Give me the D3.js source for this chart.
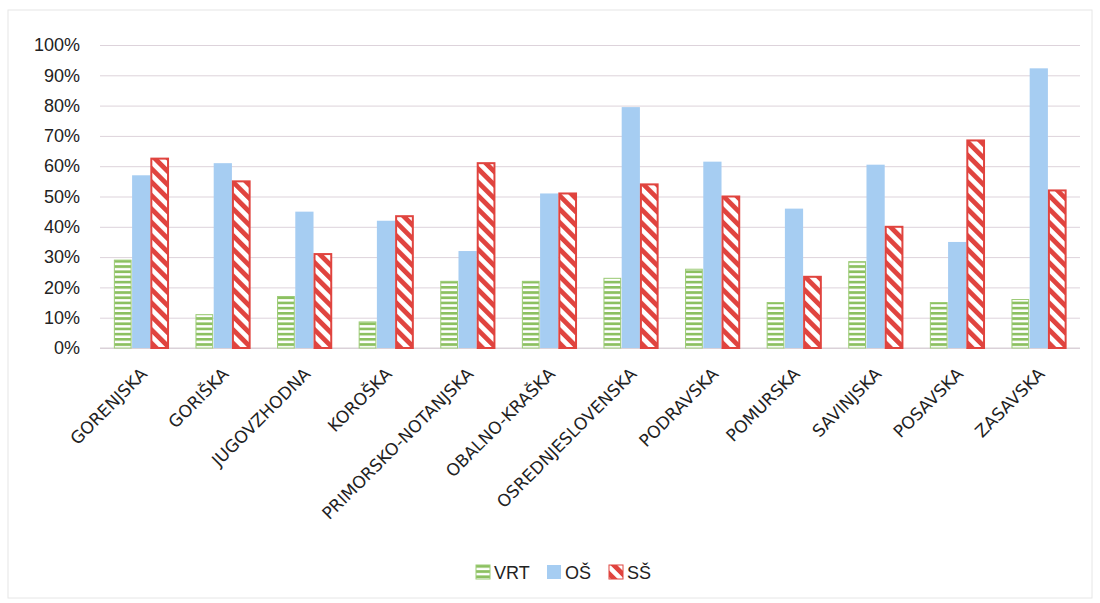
<!DOCTYPE html>
<html><head><meta charset="utf-8">
<script src="https://cdn.jsdelivr.net/npm/d3@7"></script>
<style>body{margin:0;background:#fff;} svg{display:block;font-family:"Liberation Sans",Arial,sans-serif;}</style>
</head><body>
<svg id="chart" width="1100" height="603"></svg>
<script>
const categories = ["GORENJSKA","GORIŠKA","JUGOVZHODNA","KOROŠKA","PRIMORSKO-NOTANJSKA","OBALNO-KRAŠKA","OSREDNJESLOVENSKA","PODRAVSKA","POMURSKA","SAVINJSKA","POSAVSKA","ZASAVSKA"];
const seriesNames = ["VRT","OŠ","SŠ"];
const vrt = [29, 11, 17, 8.6, 22, 22, 23, 26, 15, 28.5, 15, 16];
const os  = [57, 61, 45, 42, 32, 51, 79.5, 61.5, 46, 60.5, 35, 92.3];
const ss  = [62.5, 55, 31, 43.5, 61, 51, 54, 50, 23.5, 40, 68.5, 52];
const yTicks = [0,10,20,30,40,50,60,70,80,90,100];

const svg = d3.select("#chart");
const defs = svg.append("defs");
// green horizontal stripes
const pg = defs.append("pattern").attr("id","pGreen").attr("patternUnits","userSpaceOnUse").attr("width",6).attr("height",5.2);
pg.append("rect").attr("width",6).attr("height",5.2).attr("fill","#fff");
pg.append("rect").attr("y",0).attr("width",6).attr("height",2.7).attr("fill","#8cc061");
// red diagonal stripes ("\" direction)
const pr = defs.append("pattern").attr("id","pRed").attr("patternUnits","userSpaceOnUse").attr("width",9.5).attr("height",9.5).attr("patternTransform","rotate(-45)");
pr.append("rect").attr("width",9.5).attr("height",9.5).attr("fill","#fff");
pr.append("rect").attr("width",4.8).attr("height",9.5).attr("fill","#e0443f");

const x0 = d3.scaleBand().domain(categories).range([100, 1080]).paddingInner(0.33).paddingOuter(0.17);
const x1 = d3.scaleBand().domain(seriesNames).range([0, x0.bandwidth()]).padding(0);
const y = d3.scaleLinear().domain([0,100]).range([348, 45]);

// frame
svg.append("rect").attr("x",8).attr("y",10).attr("width",1084).attr("height",588).attr("fill","none").attr("stroke","#e6e6e6").attr("stroke-width",1);

// gridlines
const yAxis = d3.axisLeft(y).tickValues(yTicks).tickFormat(d => d + "%").tickSize(-980).tickPadding(20);
const gy = svg.append("g").attr("transform","translate(100,0)").call(yAxis);
gy.select(".domain").remove();
gy.selectAll(".tick line").attr("stroke","#ddd3db").attr("stroke-width",1);
gy.selectAll(".tick text").attr("font-size",18).attr("fill","#222").attr("font-family","'Liberation Sans',Arial,sans-serif");

// baseline
svg.append("line").attr("x1",100).attr("x2",1080).attr("y1",y(0)).attr("y2",y(0)).attr("stroke","#d8d0d6");

const data = categories.map((c,i) => ({c, vals:[{s:"VRT",v:vrt[i]},{s:"OŠ",v:os[i]},{s:"SŠ",v:ss[i]}]}));
const g = svg.append("g").selectAll("g").data(data).join("g").attr("transform", d => `translate(${x0(d.c)},0)`);
g.selectAll("rect").data(d => d.vals).join("rect")
  .attr("x", d => x1(d.s) + (d.s==="VRT"?0.5:(d.s==="SŠ"?1:0)))
  .attr("width", d => x1.bandwidth() - (d.s==="OŠ"?0:1.5))
  .attr("y", d => y(d.v))
  .attr("height", d => y(0) - y(d.v))
  .attr("fill", d => d.s==="VRT" ? "url(#pGreen)" : d.s==="OŠ" ? "#a6cdf2" : "url(#pRed)")
  .attr("stroke", d => d.s==="VRT" ? "#9ccb76" : d.s==="SŠ" ? "#e0443f" : "none")
  .attr("stroke-width", d => d.s==="SŠ" ? 2 : 1);

// x labels
const gx = svg.append("g");
gx.selectAll("text").data(categories).join("text")
  .attr("transform", d => `translate(${x0(d) + x0.bandwidth()/2 + 7},${375}) rotate(-45)`)
  .attr("text-anchor","end")
  .attr("font-size",17)
  .attr("font-family","'DejaVu Sans',Verdana,sans-serif")
  .attr("fill","#222")
  .text(d => d);

// legend
const legend = svg.append("g").attr("transform","translate(476,565)");
const lx = [0, 71, 133];
const lfill = ["url(#pGreen)","#a6cdf2","url(#pRed)"];
const lstroke = ["#9ccb76","none","#e0443f"];
seriesNames.forEach((s,i) => {
  legend.append("rect").attr("x",lx[i]).attr("y",0).attr("width",14).attr("height",14)
    .attr("fill",lfill[i]).attr("stroke",lstroke[i]).attr("stroke-width",1);
  legend.append("text").attr("x",lx[i]+18).attr("y",14).attr("font-size",18).attr("fill","#222").text(s);
});
</script>
</body></html>
